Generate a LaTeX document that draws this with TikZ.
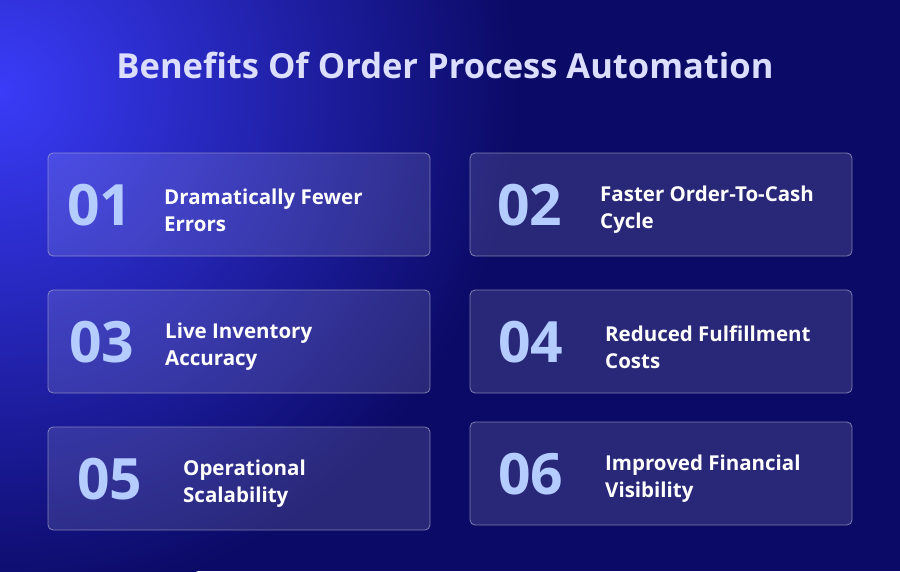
\documentclass[tikz,border=0pt]{standalone}
\usepackage{fontspec}
\setmainfont{Open Sans}
\usetikzlibrary{positioning}
\definecolor{bgnavy}{HTML}{0B0A66}
\definecolor{bgglow}{HTML}{3A3CF8}
\definecolor{titlecol}{HTML}{DCDEFF}
\definecolor{numcol}{HTML}{B4CCFF}
\tikzset{
  card/.style={draw=white!65!bgnavy, line width=0.8pt, rounded corners=5pt,
    fill=white, fill opacity=0.12, draw opacity=0.7},
  num/.style={anchor=west, font=\bfseries\fontsize{57}{57}\selectfont, text=numcol, inner sep=0pt},
  label/.style={anchor=west, font=\bfseries\fontsize{20.5}{27}\selectfont, text=white,
    align=left, inner sep=0pt}
}
\begin{document}
\begin{tikzpicture}[x=1pt,y=-1pt]
  \useasboundingbox (0,0) rectangle (900,571);
  % background
  \fill[bgnavy] (0,0) rectangle (900,571);
  \begin{scope}
    \clip (0,0) rectangle (900,571);
    \shade[inner color=bgglow, outer color=bgnavy] (0,90) circle (520);
  \end{scope}
  \node[font=\bfseries\fontsize{34.5}{34.5}\selectfont, text=titlecol] (title) at (445,65)
    {Benefits Of Order Process Automation};
  % cards
  \foreach \n/\x/\y/\nx/\tx/\txt in {
      01/48/153/67/164/{Dramatically Fewer\\Errors},
      02/470/153/497/600/{Faster Order-To-Cash\\Cycle},
      03/48/290/69/165/{Live Inventory\\Accuracy},
      04/470/290/498/605/{Reduced Fulfillment\\Costs},
      05/48/427/77/183/{Operational\\Scalability},
      06/470/422/498/605/{Improved Financial\\Visibility}} {
    \draw[card] (\x,\y) rectangle ++(382,103);
    \node[num] (num\n) at (\nx,\y+52) {\n};
    \node[label] (text\n) at (\tx,\y+57) {\txt};
  }
\end{tikzpicture}
\end{document}
